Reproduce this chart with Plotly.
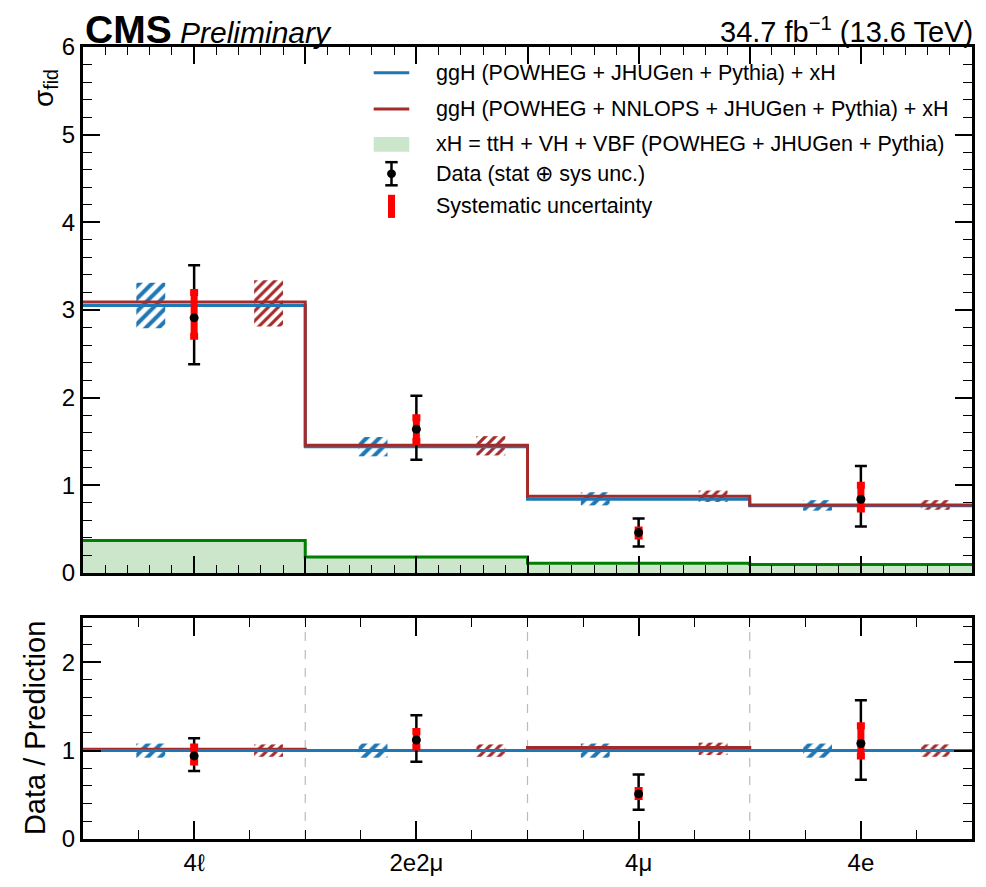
import plotly.graph_objects as go
from plotly.subplots import make_subplots

# ---------------- data ----------------
categories = ["4ℓ", "2e2μ", "4μ", "4e"]
bin_edges = [0, 1, 2, 3, 4]
bin_centers = [0.5, 1.5, 2.5, 3.5]

pred_powheg = [3.05, 1.44, 0.84, 0.765]          # ggH (POWHEG+JHUGen+Pythia) + xH
pred_nnlops = [3.09, 1.455, 0.874, 0.775]        # ggH (POWHEG+NNLOPS+JHUGen+Pythia) + xH
pred_xh = [0.37, 0.18, 0.11, 0.095]              # xH

powheg_lo = [2.79, 1.33, 0.77, 0.71]
powheg_hi = [3.31, 1.55, 0.92, 0.83]
nnlops_lo = [2.81, 1.34, 0.81, 0.72]
nnlops_hi = [3.34, 1.56, 0.94, 0.83]

data = [2.91, 1.64, 0.46, 0.84]
tot_up = [0.60, 0.38, 0.16, 0.38]
tot_dn = [0.53, 0.35, 0.16, 0.31]
sys_up = [0.29, 0.13, 0.03, 0.16]
sys_dn = [0.21, 0.14, 0.04, 0.11]

ratio_powheg = [1.0, 1.0, 1.0, 1.0]
ratio_nnlops = [1.015, 1.0, 1.035, 1.0]
ratio_powheg_lo = [0.92, 0.92, 0.92, 0.92]
ratio_powheg_hi = [1.08, 1.08, 1.08, 1.08]
ratio_nnlops_lo = [0.93, 0.93, 0.95, 0.93]
ratio_nnlops_hi = [1.07, 1.07, 1.09, 1.07]

ratio_data = [0.94, 1.12, 0.51, 1.08]
ratio_tot_up = [0.20, 0.28, 0.22, 0.49]
ratio_tot_dn = [0.17, 0.245, 0.18, 0.41]
ratio_sys_up = [0.10, 0.095, 0.04, 0.20]
ratio_sys_dn = [0.07, 0.08, 0.03, 0.14]

# ---------------- style ----------------
BLUE = "#1f77b4"
RED = "#a52a2a"
GREEN = "#008000"
FONT = "Liberation Sans"
hatch_blue_off = 0.305
hatch_red_off = 0.835
hatch_w = 0.13

fig = make_subplots(rows=2, cols=1, shared_xaxes=False)


def steps(vals):
    return list(vals) + [vals[-1]]


def hatch(xs, lo, hi, color, size, row):
    fig.add_trace(go.Bar(
        x=xs, y=[h - l for h, l in zip(hi, lo)], base=lo, width=hatch_w,
        marker=dict(color="rgba(0,0,0,0)", line=dict(width=0),
                    pattern=dict(shape="/", fgcolor=color, bgcolor="rgba(0,0,0,0)",
                                 fgopacity=1, size=size, solidity=0.45)),
        showlegend=False, hoverinfo="skip"), row=row, col=1)


xs_blue = [e + hatch_blue_off for e in bin_edges[:-1]]
xs_red = [e + hatch_red_off for e in bin_edges[:-1]]

# --- top panel ---
fig.add_trace(go.Scatter(x=bin_edges, y=steps(pred_xh), mode="lines", line_shape="hv",
                         line=dict(color=GREEN, width=3), fill="tozeroy",
                         fillcolor="rgba(0,128,0,0.2)", showlegend=False), row=1, col=1)
hatch(xs_blue, powheg_lo, powheg_hi, BLUE, 9, 1)
hatch(xs_red, nnlops_lo, nnlops_hi, RED, 7, 1)
fig.add_trace(go.Scatter(x=bin_edges, y=steps(pred_powheg), mode="lines", line_shape="hv",
                         line=dict(color=BLUE, width=3), showlegend=False), row=1, col=1)
fig.add_trace(go.Scatter(x=bin_edges, y=steps(pred_nnlops), mode="lines", line_shape="hv",
                         line=dict(color=RED, width=3), showlegend=False), row=1, col=1)
fig.add_trace(go.Scatter(x=bin_centers, y=data, mode="markers", marker=dict(size=0.1, color="black"),
                         error_y=dict(type="data", symmetric=False, array=tot_up, arrayminus=tot_dn,
                                      color="black", thickness=2.5, width=6),
                         showlegend=False), row=1, col=1)
fig.add_trace(go.Scatter(x=bin_centers, y=data, mode="markers", marker=dict(size=9, color="black"),
                         error_y=dict(type="data", symmetric=False, array=sys_up, arrayminus=sys_dn,
                                      color="red", thickness=7, width=4),
                         showlegend=False), row=1, col=1)

# --- bottom panel ---
hatch(xs_blue, ratio_powheg_lo, ratio_powheg_hi, BLUE, 9, 2)
hatch(xs_red, ratio_nnlops_lo, ratio_nnlops_hi, RED, 7, 2)
fig.add_trace(go.Scatter(x=bin_edges, y=steps(ratio_nnlops), mode="lines", line_shape="hv",
                         line=dict(color=RED, width=3), showlegend=False), row=2, col=1)
fig.add_trace(go.Scatter(x=bin_edges, y=steps(ratio_powheg), mode="lines", line_shape="hv",
                         line=dict(color=BLUE, width=3), showlegend=False), row=2, col=1)
fig.add_trace(go.Scatter(x=bin_centers, y=ratio_data, mode="markers", marker=dict(size=0.1, color="black"),
                         error_y=dict(type="data", symmetric=False, array=ratio_tot_up, arrayminus=ratio_tot_dn,
                                      color="black", thickness=2.5, width=6),
                         showlegend=False), row=2, col=1)
fig.add_trace(go.Scatter(x=bin_centers, y=ratio_data, mode="markers", marker=dict(size=9, color="black"),
                         error_y=dict(type="data", symmetric=False, array=ratio_sys_up, arrayminus=ratio_sys_dn,
                                      color="red", thickness=7, width=4),
                         showlegend=False), row=2, col=1)

# dashed bin separators in ratio panel
for e in bin_edges[1:-1]:
    fig.add_shape(type="line", xref="x2", yref="y2 domain", x0=e, x1=e, y0=0, y1=1,
                  line=dict(color="#bbbbbb", width=1.2, dash="dash"), layer="below")

axis_common = dict(showline=True, linewidth=3, linecolor="black", mirror="allticks",
                   ticks="inside", tickcolor="black", tickwidth=1.5, showgrid=False,
                   zeroline=False, tickfont=dict(family=FONT, size=24, color="black"))

fig.update_xaxes(range=[0, 4], tickmode="linear", tick0=0, dtick=0.5, ticklen=17,
                 showticklabels=False,
                 minor=dict(ticks="inside", dtick=0.1, tick0=0, ticklen=8, tickwidth=1.2, tickcolor="black"),
                 row=1, col=1, **axis_common)
fig.update_xaxes(range=[0, 4], tickmode="array", tickvals=bin_centers, ticktext=categories, ticklen=18,
                 minor=dict(ticks="inside", dtick=0.25, tick0=0, ticklen=9, tickwidth=1.2, tickcolor="black"),
                 row=2, col=1, **axis_common)
fig.update_yaxes(range=[0, 6], tickmode="linear", tick0=0, dtick=1, ticklen=17,
                 minor=dict(ticks="inside", dtick=0.2, tick0=0, ticklen=9, tickwidth=1.2, tickcolor="black"),
                 row=1, col=1, **axis_common)
fig.update_yaxes(range=[0, 2.5], tickmode="linear", tick0=0, dtick=1, ticklen=18,
                 minor=dict(ticks="inside", dtick=0.2, tick0=0, ticklen=9, tickwidth=1.2, tickcolor="black"),
                 row=2, col=1, **axis_common)

# ---------------- legend (manual) ----------------
leg_rows = [0.951, 0.882, 0.815, 0.759, 0.697]
leg_texts = ["ggH (POWHEG + JHUGen + Pythia) + xH",
             "ggH (POWHEG + NNLOPS + JHUGen + Pythia) + xH",
             "xH = ttH + VH + VBF (POWHEG + JHUGen + Pythia)",
             "Data (stat ⊕ sys unc.)",
             "Systematic uncertainty"]
lx0, lx1, ltx = 0.327, 0.367, 0.395
lxc = (lx0 + lx1) / 2
for yv, t in zip(leg_rows, leg_texts):
    fig.add_annotation(xref="x domain", yref="y domain", x=ltx, y=yv, text=t, showarrow=False,
                       xanchor="left", yanchor="middle", font=dict(family=FONT, size=21.5, color="black"))
fig.add_shape(type="line", xref="x domain", yref="y domain", x0=lx0, x1=lx1, y0=leg_rows[0], y1=leg_rows[0],
              line=dict(color=BLUE, width=3))
fig.add_shape(type="line", xref="x domain", yref="y domain", x0=lx0, x1=lx1, y0=leg_rows[1], y1=leg_rows[1],
              line=dict(color=RED, width=3))
fig.add_shape(type="rect", xref="x domain", yref="y domain", x0=lx0, x1=lx1,
              y0=leg_rows[2] - 0.014, y1=leg_rows[2] + 0.014,
              line=dict(width=0), fillcolor="rgba(0,128,0,0.2)")
dy = 0.022
fig.add_shape(type="line", xref="x domain", yref="y domain", x0=lxc, x1=lxc,
              y0=leg_rows[3] - dy, y1=leg_rows[3] + dy, line=dict(color="black", width=2.5))
for s in (-dy, dy):
    fig.add_shape(type="line", xref="x domain", yref="y domain", x0=lxc - 0.007, x1=lxc + 0.007,
                  y0=leg_rows[3] + s, y1=leg_rows[3] + s, line=dict(color="black", width=2.5))
fig.add_shape(type="circle", xref="x domain", yref="y domain", x0=lxc - 0.005, x1=lxc + 0.005,
              y0=leg_rows[3] - 0.008, y1=leg_rows[3] + 0.008, fillcolor="black", line=dict(width=0))
fig.add_shape(type="line", xref="x domain", yref="y domain", x0=lxc, x1=lxc,
              y0=leg_rows[4] - dy, y1=leg_rows[4] + dy, line=dict(color="red", width=7))

# ---------------- texts ----------------
fig.add_annotation(xref="paper", yref="paper", x=0, y=1, xanchor="left", yanchor="bottom",
                   text="<b>CMS</b>", showarrow=False, font=dict(family=FONT, size=39, color="black"),
                   yshift=-6)
fig.add_annotation(xref="paper", yref="paper", x=0.1065, y=1, xanchor="left", yanchor="bottom",
                   text="<i>Preliminary</i>", showarrow=False, font=dict(family=FONT, size=30, color="black"),
                   yshift=-4)
fig.add_annotation(xref="paper", yref="paper", x=1.003, y=1, xanchor="right", yanchor="bottom",
                   text="34.7 fb<sup>−1</sup> (13.6 TeV)", showarrow=False,
                   font=dict(family=FONT, size=29, color="black"), yshift=-3)
fig.add_annotation(xref="paper", yref="paper", x=-0.043, y=0.948, xanchor="center", yanchor="middle",
                   text="σ<sub>fid</sub>", textangle=-90, showarrow=False,
                   font=dict(family=FONT, size=28, color="black"))
fig.add_annotation(xref="paper", yref="paper", x=-0.054, y=0.14, xanchor="center", yanchor="middle",
                   text="Data / Prediction", textangle=-90, showarrow=False,
                   font=dict(family=FONT, size=29, color="black"))

fig.update_layout(width=986, height=887, margin=dict(l=83, r=11, t=47, b=34),
                  paper_bgcolor="white", plot_bgcolor="white", barmode="overlay",
                  showlegend=False, font=dict(family=FONT, color="black"),
                  yaxis=dict(domain=[0.336, 1.0]), yaxis2=dict(domain=[0.0, 0.279]))

# pin the figure to the window's top-left corner so it fills the 986x887 window exactly
fig.write_html("out.html",
               config={"displayModeBar": False},
               post_script="var gd=document.getElementById('{plot_id}');"
                           "gd.style.position='fixed';gd.style.left='0px';gd.style.top='0px';"
                           "document.body.style.margin='0px';"
                           "document.documentElement.style.overflow='hidden';"
                           "document.body.style.overflow='hidden';")
